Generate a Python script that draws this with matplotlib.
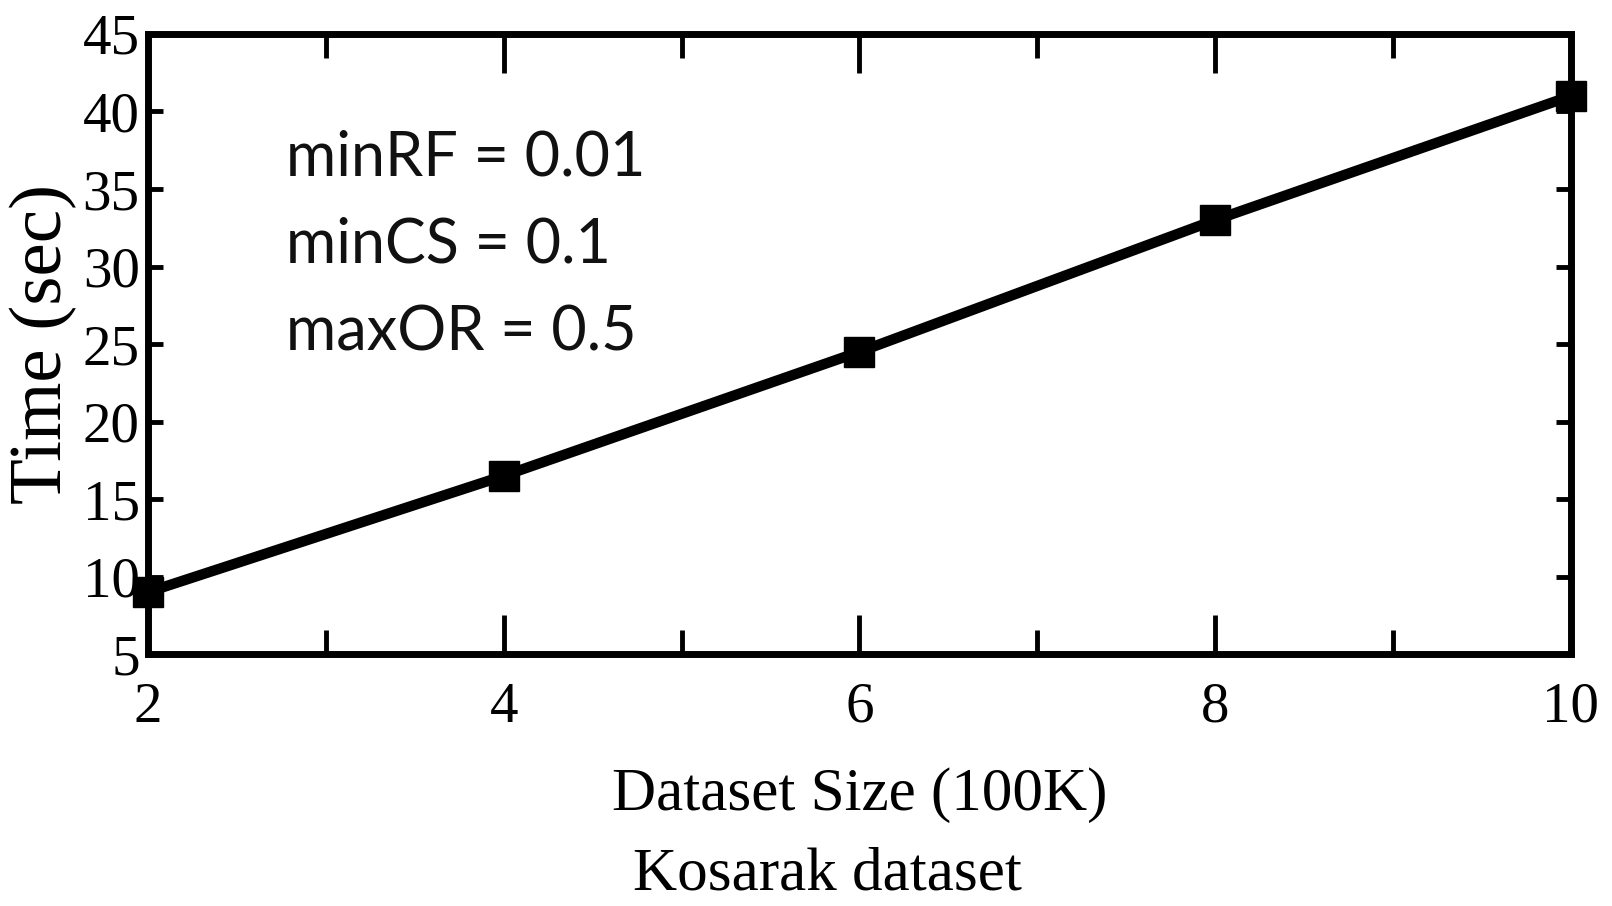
import matplotlib
matplotlib.use("Agg")
import matplotlib.pyplot as plt
from matplotlib.ticker import MultipleLocator

# data
sizes = [2, 4, 6, 8, 10]
times = [9.0, 16.5, 24.5, 33.0, 41.0]
params = ["minRF = 0.01", "minCS = 0.1", "maxOR = 0.5"]

plt.rcParams["font.family"] = ["Liberation Serif", "DejaVu Serif"]

fig = plt.figure(figsize=(16.12, 9.06), dpi=100)
ax = fig.add_axes([0.0918, 0.278, 0.8827, 0.6845])

ax.plot(sizes, times, color="black", linewidth=7.5, marker="s",
        markersize=21, solid_capstyle="butt", clip_on=False, zorder=5)

ax.set_xlim(2, 10)
ax.set_ylim(5, 45)
ax.xaxis.set_major_locator(MultipleLocator(2))
ax.xaxis.set_minor_locator(MultipleLocator(1))
ax.yaxis.set_major_locator(MultipleLocator(5))

for sp in ax.spines.values():
    sp.set_linewidth(5)

ax.tick_params(axis="x", which="major", direction="in", length=28, width=3.5,
               top=True, labelsize=41, pad=20)
ax.tick_params(axis="x", which="minor", direction="in", length=17, width=3.5,
               top=True)
ax.tick_params(axis="y", which="major", direction="in", length=11, width=3.5,
               right=True, labelsize=41, pad=6)

ax.set_xlabel("Dataset Size (100K)", fontsize=44, labelpad=24)
ax.set_ylabel("Time (sec)", fontsize=54, labelpad=4)

fig.text(0.513, 0.035, "Kosarak dataset", fontsize=44, ha="center", va="center")

for i, t in enumerate(params):
    ax.text(0.097, 0.8 - i * 0.141, t, transform=ax.transAxes, fontsize=44,
            family=["Lato", "DejaVu Sans"], color="#111111",
            ha="left", va="center")

fig.savefig("out.png", dpi=100)
